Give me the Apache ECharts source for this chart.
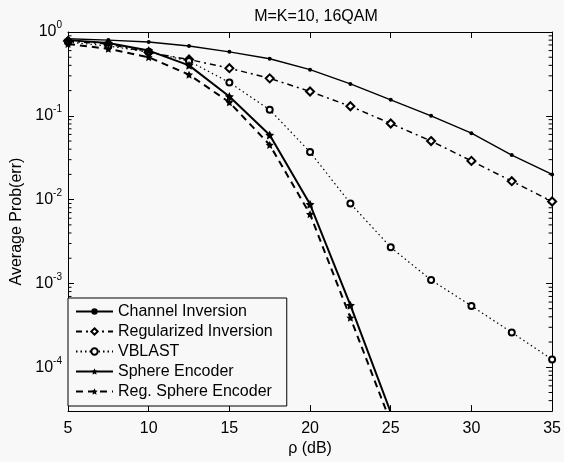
<!DOCTYPE html>
<html>
<head>
<meta charset="utf-8">
<script src="https://cdn.jsdelivr.net/npm/echarts@6/dist/echarts.min.js"></script>
<style>
  html, body { margin: 0; padding: 0; background: #f8f8f8; }
  #chart { width: 564px; height: 462px; }
</style>
</head>
<body>
<div id="chart"></div>
<script>
// SNR points (dB)
const snr = [5, 7.5, 10, 12.5, 15, 17.5, 20, 22.5, 25, 27.5, 30, 32.5, 35];

// average probability of error
const channelInversion = [0.83, 0.8, 0.76, 0.68, 0.58, 0.48, 0.355, 0.24, 0.155, 0.1, 0.062, 0.034, 0.02];
const regularizedInversion = [0.78, 0.72, 0.57, 0.47, 0.37, 0.28, 0.195, 0.13, 0.081, 0.05, 0.029, 0.0166, 0.0095];
const vblast = [0.76, 0.68, 0.58, 0.45, 0.25, 0.118, 0.037, 0.009, 0.0027, 0.0011, 0.00054, 0.00026, 0.000124];
const sphereEncoder = [0.8, 0.74, 0.6, 0.4, 0.17, 0.059, 0.0088, 0.00055, 0.000029];
const regSphereEncoder = [0.72, 0.63, 0.5, 0.31, 0.145, 0.045, 0.0067, 0.00039, 0.000022];

// minor ticks of the log axis (2..9 per decade)
const minorTicks = [
  0.00004, 0.00005, 0.00006, 0.00007, 0.00008, 0.00009,
  0.0002, 0.0003, 0.0004, 0.0005, 0.0006, 0.0007, 0.0008, 0.0009,
  0.002, 0.003, 0.004, 0.005, 0.006, 0.007, 0.008, 0.009,
  0.02, 0.03, 0.04, 0.05, 0.06, 0.07, 0.08, 0.09,
  0.2, 0.3, 0.4, 0.5, 0.6, 0.7, 0.8, 0.9
];

const FONT = 'Liberation Sans';
const STAR = 'path://M0,-10 L2.9,-4 L9.5,-3.1 L4.7,1.5 L5.9,8.1 L0,5 L-5.9,8.1 L-4.7,1.5 L-9.5,-3.1 L-2.9,-4 Z';

const pairs = (ys) => ys.map((y, i) => [snr[i], y]);

const chart = echarts.init(document.getElementById('chart'));

const baseY = {
  type: 'log',
  logBase: 10,
  min: 0.00003,
  max: 1,
  axisLine: { show: true, lineStyle: { color: '#000', width: 1 } },
  axisTick: { show: true, inside: true, length: 6, lineStyle: { color: '#000' } },
  splitLine: { show: false }
};

const baseX = {
  type: 'value',
  min: 5,
  max: 35,
  interval: 5,
  axisLine: { show: true, onZero: false, lineStyle: { color: '#000', width: 1 } },
  axisTick: { show: true, inside: true, length: 6, lineStyle: { color: '#000' } },
  splitLine: { show: false }
};

const option = {
  backgroundColor: '#f8f8f8',
  animation: false,
  textStyle: { fontFamily: FONT, color: '#000' },
  title: {
    text: 'M=K=10, 16QAM',
    left: 311,
    textAlign: 'center',
    top: 4,
    textStyle: { fontFamily: FONT, fontSize: 16, fontWeight: 'normal', color: '#000' }
  },
  grid: { left: 68, right: 9, top: 32, bottom: 45 },
  xAxis: [
    Object.assign({}, baseX, {
      position: 'bottom',
      name: 'ρ (dB)',
      nameLocation: 'middle',
      nameGap: 26,
      nameTextStyle: { fontFamily: FONT, fontSize: 16, color: '#000' },
      axisLabel: { fontFamily: FONT, fontSize: 16, color: '#000', margin: 9 }
    }),
    Object.assign({}, baseX, { position: 'top', axisLabel: { show: false } })
  ],
  yAxis: [
    Object.assign({}, baseY, {
      position: 'left',
      name: 'Average Prob(err)',
      nameLocation: 'middle',
      nameGap: 37,
      nameTextStyle: { fontFamily: FONT, fontSize: 16, color: '#000' },
      axisLabel: {
        margin: 6,
        formatter: (v) => {
          const e = Math.round(Math.log10(v));
          if (Math.abs(Math.log10(v) - e) > 1e-6) return '';
          return '{b|10}{s|' + e + '}';
        },
        rich: {
          b: { fontFamily: FONT, fontSize: 16, color: '#000' },
          s: { fontFamily: FONT, fontSize: 10, color: '#000', padding: [0, 0, 13, 0] }
        }
      }
    }),
    Object.assign({}, baseY, { position: 'right', axisLabel: { show: false } })
  ],
  legend: {
    orient: 'vertical',
    left: 68,
    top: 298,
    padding: [5, 14, 6, 7],
    itemGap: 3,
    itemWidth: 37,
    itemHeight: 8,
    borderColor: '#000',
    borderWidth: 1,
    backgroundColor: '#f8f8f8',
    textStyle: { fontFamily: FONT, fontSize: 16, color: '#000', lineHeight: 17 },
    data: ['Channel Inversion', 'Regularized Inversion', 'VBLAST', 'Sphere Encoder', 'Reg. Sphere Encoder']
  },
  series: [
    {
      name: 'Channel Inversion',
      type: 'line',
      data: pairs(channelInversion),
      symbol: 'circle',
      symbolSize: 4,
      itemStyle: { color: '#000' },
      lineStyle: { color: '#000', width: 1.4, type: 'solid' }
    },
    {
      name: 'Regularized Inversion',
      type: 'line',
      data: pairs(regularizedInversion),
      symbol: 'emptyDiamond',
      symbolSize: 8,
      itemStyle: { color: '#000', borderWidth: 2 },
      lineStyle: { color: '#000', width: 1.5, type: [6, 4, 2, 4] }
    },
    {
      name: 'VBLAST',
      type: 'line',
      data: pairs(vblast),
      symbol: 'emptyCircle',
      symbolSize: 6,
      itemStyle: { color: '#000', borderWidth: 2 },
      lineStyle: { color: '#000', width: 1.2, type: [1.5, 3] }
    },
    {
      name: 'Sphere Encoder',
      type: 'line',
      data: pairs(sphereEncoder),
      symbol: STAR,
      symbolSize: 9,
      itemStyle: { color: '#000' },
      lineStyle: { color: '#000', width: 2, type: 'solid' }
    },
    {
      name: 'Reg. Sphere Encoder',
      type: 'line',
      data: pairs(regSphereEncoder),
      symbol: STAR,
      symbolSize: 8,
      itemStyle: { color: '#000' },
      lineStyle: { color: '#000', width: 2, type: [7, 5] }
    },
    {
      name: 'minor ticks',
      type: 'custom',
      silent: true,
      data: minorTicks.map((v) => [5, v]),
      renderItem: (params, api) => {
        const l = api.coord([5, api.value(1)]);
        const r = api.coord([35, api.value(1)]);
        const style = { stroke: '#000', lineWidth: 1 };
        return {
          type: 'group',
          children: [
            { type: 'line', shape: { x1: l[0], y1: l[1], x2: l[0] + 3.5, y2: l[1] }, style: style },
            { type: 'line', shape: { x1: r[0], y1: r[1], x2: r[0] - 3.5, y2: r[1] }, style: style }
          ]
        };
      }
    }
  ]
};

chart.setOption(option);
</script>
</body>
</html>
